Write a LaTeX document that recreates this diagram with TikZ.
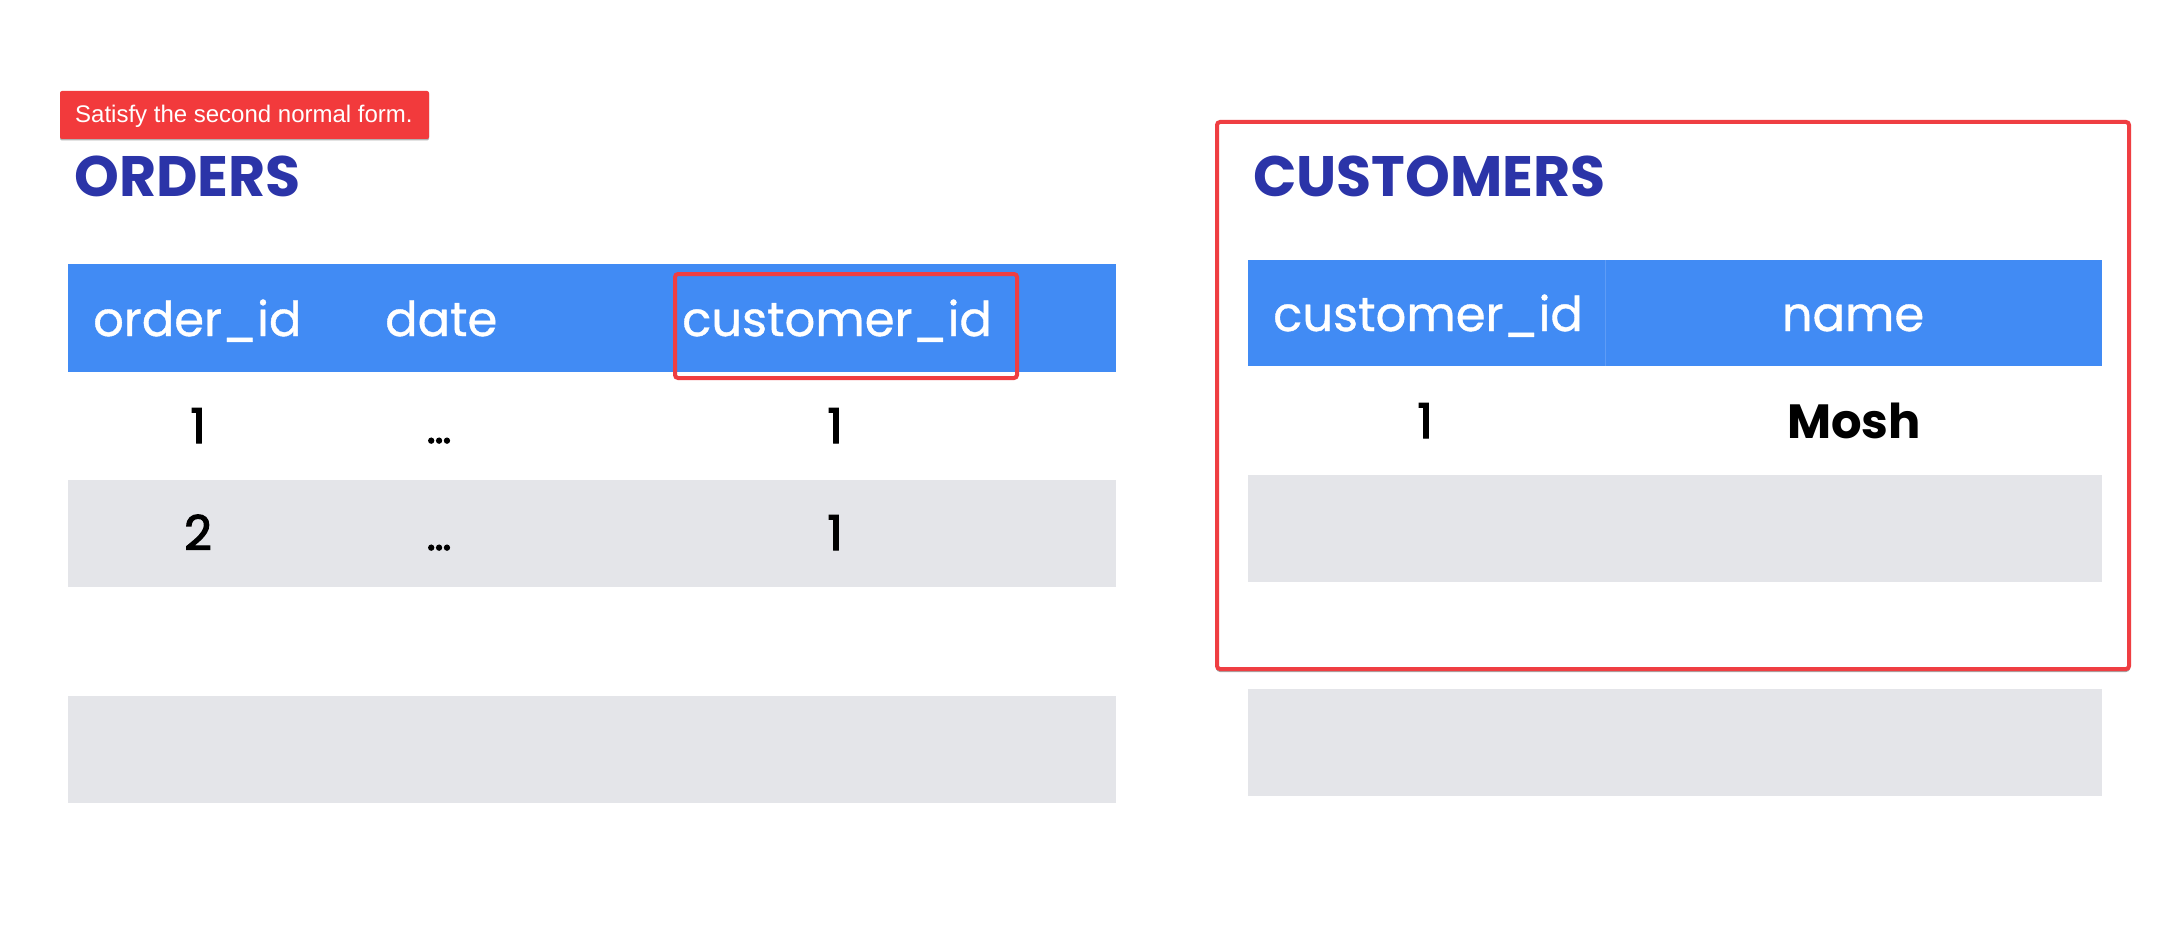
\documentclass[tikz,border=0pt]{standalone}
\usepackage{fontspec}
\setmainfont{Poppins}
\newfontfamily\labelfont{Liberation Sans}
\newfontfamily\pophdr[FakeBold=0.8]{Poppins}
\newfontfamily\popmed[FakeBold=2.5]{Poppins}
\definecolor{hdrblue}{RGB}{65,139,244}
\definecolor{rowgray}{RGB}{228,229,233}
\definecolor{titleblue}{RGB}{43,52,168}
\definecolor{hlred}{RGB}{239,62,66}
\definecolor{tagred}{RGB}{242,58,60}
\tikzset{
  hdrtext/.style={inner sep=0pt, anchor=base west, text=white, font=\pophdr\fontsize{48}{58}\selectfont},
  hdrmid/.style={inner sep=0pt, anchor=base, text=white, font=\pophdr\fontsize{48}{58}\selectfont},
  celltext/.style={inner sep=0pt, anchor=base, text=black, font=\popmed\fontsize{48}{58}\selectfont},
  dotstext/.style={inner sep=0pt, anchor=base, text=black, font=\popmed\fontsize{42}{50}\selectfont},
  boldcell/.style={inner sep=0pt, anchor=base, text=black, font=\bfseries\fontsize{48}{58}\selectfont},
  titletext/.style={inner sep=0pt, anchor=base west, text=titleblue, font=\bfseries\fontsize{57}{68}\selectfont},
  tagtext/.style={inner sep=0pt, anchor=base west, text=white, font=\labelfont\fontsize{24}{29}\selectfont},
  hlbox/.style={draw=hlred, line width=4pt, rounded corners=3pt},
}
\begin{document}
\begin{tikzpicture}[x=1pt,y=-1pt]
\useasboundingbox (0,0) rectangle (2182,936);
\fill[white] (0,0) rectangle (2182,936);

% tag
\fill[black!30] (60,92) [rounded corners=2pt] rectangle (429,140.5);
\fill[tagred] (60,91) [rounded corners=2pt] rectangle (429,139);
\node[tagtext] (tag) at (75,123) {Satisfy the second normal form.};

% ORDERS table
\node[titletext] (ordtitle) at (74,197) {ORDERS};
\fill[hdrblue] (68,264) rectangle (1116,372);
\fill[rowgray] (68,480) rectangle (1116,587);
\fill[rowgray] (68,696) rectangle (1116,803);
\node[hdrtext] (h1) at (93,336) {order\_id};
\node[hdrtext] (h2) at (385,336) {date};
\node[hdrtext] (h3) at (682,336) {customer\_id};
\draw[hlbox] (675,274) rectangle (1017,378);
\node[celltext] (r1a) at (198,443) {1};
\node[dotstext] (r1b) at (439,443) {…};
\node[celltext] (r1c) at (835,443) {1};
\node[celltext] (r2a) at (198,550) {2};
\node[dotstext] (r2b) at (439,550) {…};
\node[celltext] (r2c) at (835,550) {1};

% CUSTOMERS table
\draw[black!35, line width=2pt, rounded corners=3pt] (1217,124) rectangle (2129,671);
\draw[hlbox, fill=white] (1217,122) rectangle (2129,669);
\node[titletext] (custtitle) at (1253,197) {CUSTOMERS};
\fill[hdrblue] (1248,260) rectangle (2102,366);
\draw[hdrblue!85!white, line width=1pt] (1605,260) -- (1605,366);
\fill[rowgray] (1248,475) rectangle (2102,582);
\fill[rowgray] (1248,689) rectangle (2102,796);
\node[hdrtext] (c1) at (1273,331) {customer\_id};
\node[hdrmid] (c2) at (1853,331) {name};
\node[celltext] (cr1a) at (1425,438) {1};
\node[boldcell] (cr1b) at (1854,438) {Mosh};
\end{tikzpicture}
\end{document}
